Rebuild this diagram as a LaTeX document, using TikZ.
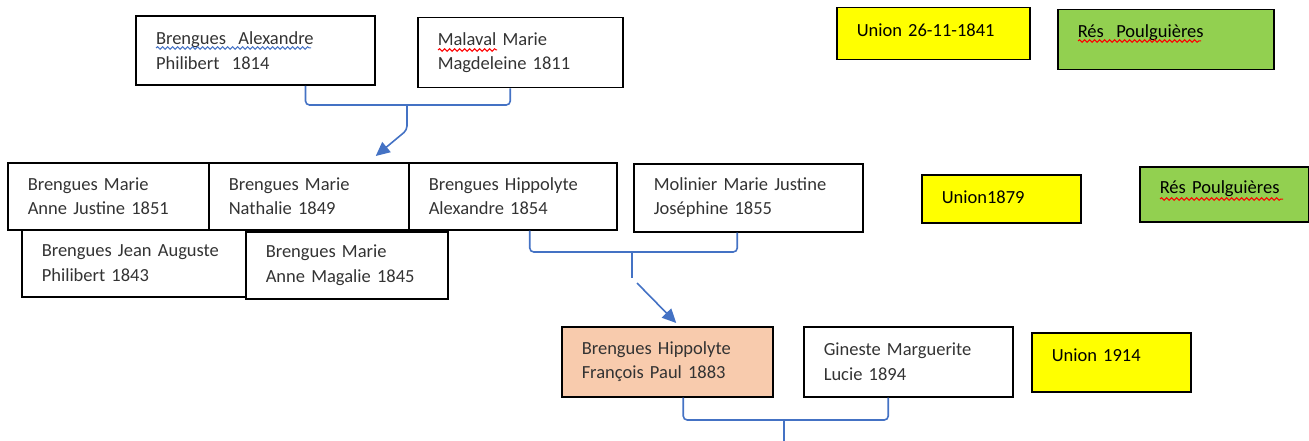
\documentclass[tikz,border=0pt]{standalone}
\usepackage{fontspec}
\setmainfont{Carlito}
\usepackage{xcolor}
\usetikzlibrary{arrows.meta,calc,decorations.pathmorphing}

\definecolor{linkblue}{HTML}{4472C4}
\definecolor{unionyellow}{HTML}{FFFF00}
\definecolor{resgreen}{HTML}{92D050}
\definecolor{heirsalmon}{HTML}{F8CBAD}

\tikzset{
    person/.style={draw, line width=1.5pt, anchor=north west, align=left, inner xsep=20pt, inner ysep=0pt, text=black!80, font=\fontsize{18.5}{24.5}\selectfont},
    tag/.style={draw, line width=1.5pt, anchor=north west, align=left, inner xsep=20pt, inner ysep=0pt, text=black, font=\fontsize{18.5}{24.5}\selectfont},
    bracket/.style={draw=linkblue, line width=1.6pt, rounded corners=4pt},
    squiggle/.style={line width=1pt, decorate, decoration={snake, amplitude=1.3pt, segment length=5pt}}
}

\begin{document}
\begin{tikzpicture}[x=1pt, y=-1pt]

    \useasboundingbox (0,0) rectangle (1309,441);

    \node[person, line width=2pt, text width=199pt, minimum height=69pt] (a) at (135,15) {Brengues\ \ Alexandre\\Philibert\ \ 1814};
    \node[person, text width=165pt, minimum height=70pt] (b) at (417,17) {Malaval Marie\\Magdeleine 1811};
    \node[tag, fill=unionyellow, text width=153pt, text height=29pt, text depth=23pt] (u1) at (836,7) {Union 26-11-1841};
    \node[tag, fill=resgreen, text width=176pt, text height=28pt, text depth=32pt] (r1) at (1057,9) {Rés\ \ Poulguières};

    \node[person, text width=161pt, minimum height=67pt] (c1) at (7,162) {Brengues Marie\\Anne Justine 1851};
    \node[person, text width=160pt, minimum height=67pt] (c2) at (208,162) {Brengues Marie\\Nathalie 1849};
    \node[person, text width=168pt, minimum height=67pt] (c3) at (408,162) {Brengues Hippolyte\\Alexandre 1854};
    \node[person, text width=189pt, minimum height=68pt] (d) at (633,163) {Molinier Marie Justine\\Joséphine 1855};
    \node[person, text width=184pt, minimum height=67pt] (c4) at (21,229) {Brengues Jean Auguste\\Philibert 1843};
    \node[person, text width=162pt, minimum height=67pt] (c5) at (245,231) {Brengues Marie\\Anne Magalie 1845};
    \node[tag, fill=unionyellow, text width=119pt, text height=29pt, text depth=19pt] (u2) at (921,174) {Union1879};
    \node[tag, fill=resgreen, text width=129pt, text height=27pt, text depth=28pt] (r2) at (1139,166) {Rés Poulguières};

    \node[person, fill=heirsalmon, text width=171pt, minimum height=70pt] (e) at (561,326) {Brengues Hippolyte\\François Paul 1883};
    \node[person, text width=169pt, minimum height=70pt] (f) at (803,326) {Gineste Marguerite\\Lucie 1894};
    \node[tag, fill=unionyellow, text width=119pt, text height=29pt, text depth=30pt] (u3) at (1031,332) {Union 1914};

    \draw [squiggle, linkblue] ($(a.north west)+(21,33)$) -- ($(a.north west)+(176,33)$);
    \draw [squiggle, red] ($(b.north west)+(21,33)$) -- ($(b.north west)+(80,33)$);
    \draw [squiggle, red] ($(r1.north west)+(21,32)$) -- ($(r1.north west)+(144,32)$);
    \draw [squiggle, red] ($(r2.north west)+(21,33)$) -- ($(r2.north west)+(144,33)$);

    \coordinate (m1) at (407,105);
    \coordinate (k1) at (407,130);
    \coordinate (m2) at (632,252);
    \coordinate (k2) at (632,278);
    \coordinate (s2) at (637,283);
    \coordinate (m3) at (784,420);
    \coordinate (k3) at (784,441);

    \draw [bracket] ([xshift=50pt]a.south) |- (m1) -| ([xshift=-10pt]b.south);
    \draw [bracket] ([xshift=17pt]c3.south) |- (m2) -| ([xshift=-11pt]d.south);
    \draw [bracket] ([xshift=16pt]e.south) |- (m3) -| ([xshift=-20pt]f.south);
    \draw [bracket, -{Triangle[length=14pt, width=13pt]}] (m1) -- (k1) -- ([xshift=67pt, yshift=6pt]c2.north);
    \draw [bracket] (m2) -- (k2);
    \draw [bracket, -{Triangle[length=14pt, width=13pt]}] (s2) -- ([xshift=9pt, yshift=3pt]e.north);
    \draw [bracket] (m3) -- (k3);

\end{tikzpicture}
\end{document}
